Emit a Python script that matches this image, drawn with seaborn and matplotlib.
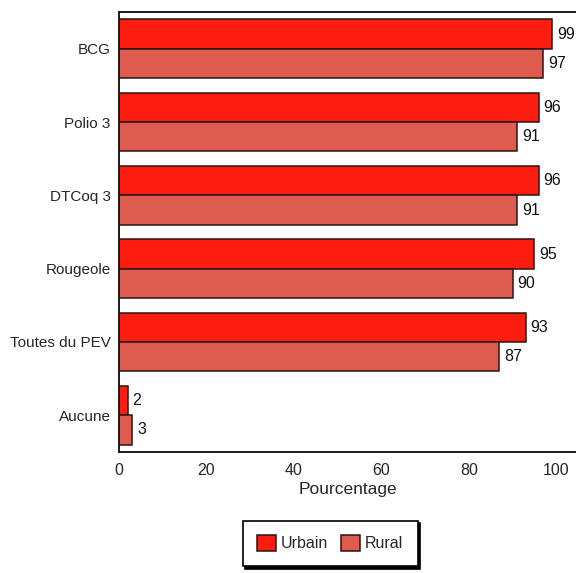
import matplotlib
matplotlib.use("Agg")
import matplotlib.pyplot as plt
import seaborn as sns
import pandas as pd

categories = ["BCG", "Polio 3", "DTCoq 3", "Rougeole", "Toutes du PEV", "Aucune"]
urbain = [99, 96, 96, 95, 93, 2]
rural = [97, 91, 91, 90, 87, 3]
series = ["Urbain", "Rural"]
xticks = [0, 20, 40, 60, 80, 100]

df = pd.DataFrame({
    "Vaccin": categories * 2,
    "Pourcentage": urbain + rural,
    "Milieu": [series[0]] * len(categories) + [series[1]] * len(categories),
})

sns.set_theme(style="white")
plt.rcParams["font.family"] = ["Liberation Sans", "DejaVu Sans"]

fig = plt.figure(figsize=(5.76, 5.73), dpi=100)
ax = fig.add_axes([0.2066, 0.2112, 0.7934, 0.7678])

palette = {"Urbain": "#fb1d10", "Rural": "#de5b50"}
sns.barplot(data=df, x="Pourcentage", y="Vaccin", hue="Milieu", order=categories,
            hue_order=series, palette=palette, orient="h", ax=ax,
            edgecolor="#2a1512", linewidth=1.1, saturation=1, legend=False)

for cont in ax.containers:
    ax.bar_label(cont, fmt="%d", padding=3.5, fontsize=11.5, color="#111111")

ax.set_xlim(0, 104.5)
ax.set_xticks(xticks)
ax.set_xticklabels([str(t) for t in xticks], fontsize=11.5)
ax.tick_params(axis="y", labelsize=11, length=0, pad=6)
ax.tick_params(axis="x", length=0, pad=8)
ax.set_ylabel("")
ax.set_xlabel("Pourcentage", fontsize=12.5, labelpad=3)
for side in ["left", "bottom", "top"]:
    ax.spines[side].set_color("#1a1a1a")
    ax.spines[side].set_linewidth(1.4)
ax.spines["right"].set_visible(False)

handles = [plt.Rectangle((0, 0), 1, 1, facecolor=palette[s], edgecolor="#2a1512", linewidth=1.1)
           for s in series]
leg = fig.legend(handles, series, loc="center", bbox_to_anchor=(0.573, 0.052),
                 ncol=2, fontsize=11.5, frameon=True, fancybox=False,
                 shadow={"color": "black", "alpha": 1},
                 edgecolor="black", handlelength=1.2, handleheight=1.2,
                 handletextpad=0.3, columnspacing=0.8, borderpad=0.9)
leg.get_frame().set_linewidth(1.2)

fig.savefig("out.png", dpi=100)
